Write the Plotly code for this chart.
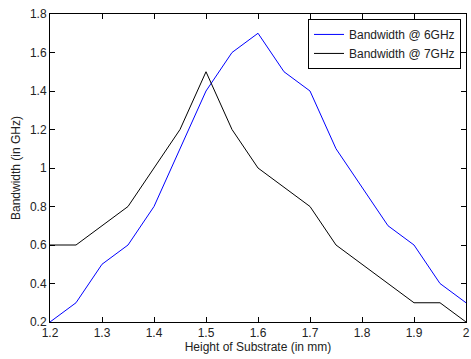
import plotly.graph_objects as go

height_mm = [1.2, 1.25, 1.3, 1.35, 1.4, 1.45, 1.5, 1.55, 1.6, 1.65, 1.7, 1.75, 1.8, 1.85, 1.9, 1.95, 2.0]
bw_6ghz = [0.2, 0.3, 0.5, 0.6, 0.8, 1.1, 1.4, 1.6, 1.7, 1.5, 1.4, 1.1, 0.9, 0.7, 0.6, 0.4, 0.3]
bw_7ghz = [0.6, 0.6, 0.7, 0.8, 1.0, 1.2, 1.5, 1.2, 1.0, 0.9, 0.8, 0.6, 0.5, 0.4, 0.3, 0.3, 0.2]
x_ticks = [1.2, 1.3, 1.4, 1.5, 1.6, 1.7, 1.8, 1.9, 2.0]
x_tick_text = ["1.2", "1.3", "1.4", "1.5", "1.6", "1.7", "1.8", "1.9", "2"]
y_ticks = [0.2, 0.4, 0.6, 0.8, 1.0, 1.2, 1.4, 1.6, 1.8]
y_tick_text = ["0.2", "0.4", "0.6", "0.8", "1", "1.2", "1.4", "1.6", "1.8"]

fig = go.Figure()
fig.add_trace(go.Scatter(x=height_mm, y=bw_6ghz, mode="lines", name="Bandwidth @ 6GHz",
                         line=dict(color="#0000ff", width=1)))
fig.add_trace(go.Scatter(x=height_mm, y=bw_7ghz, mode="lines", name="Bandwidth @ 7GHz",
                         line=dict(color="#000000", width=1)))

axis_common = dict(showgrid=False, zeroline=False, showline=True, linecolor="black", linewidth=1,
                   mirror="ticks", ticks="inside", ticklen=5, tickcolor="black",
                   ticklabeloverflow="allow",
                   tickfont=dict(family="Liberation Sans, Arial", size=12, color="#222222"))

fig.update_layout(
    width=471, height=359,
    margin=dict(l=50, r=1, t=14, b=37),
    paper_bgcolor="white", plot_bgcolor="white",
    font=dict(family="Liberation Sans, Arial", size=12, color="#222222"),
    xaxis=dict(range=[1.2, 2.0], tickvals=x_ticks, ticktext=x_tick_text,
               title=dict(text="Height of Substrate (in mm)", font=dict(size=12), standoff=0),
               **axis_common),
    yaxis=dict(range=[0.2, 1.8], tickvals=y_ticks, ticktext=y_tick_text,
               title=dict(text="Bandwidth (in GHz)", font=dict(size=12), standoff=6),
               **axis_common),
    legend=dict(x=0.988, y=0.984, xanchor="right", yanchor="top",
                bgcolor="white", bordercolor="black", borderwidth=1,
                font=dict(size=12), tracegroupgap=0),
    showlegend=True,
)

fig.write_html("out.html", config={"displayModeBar": False},
               post_script="document.body.style.margin='0';")
